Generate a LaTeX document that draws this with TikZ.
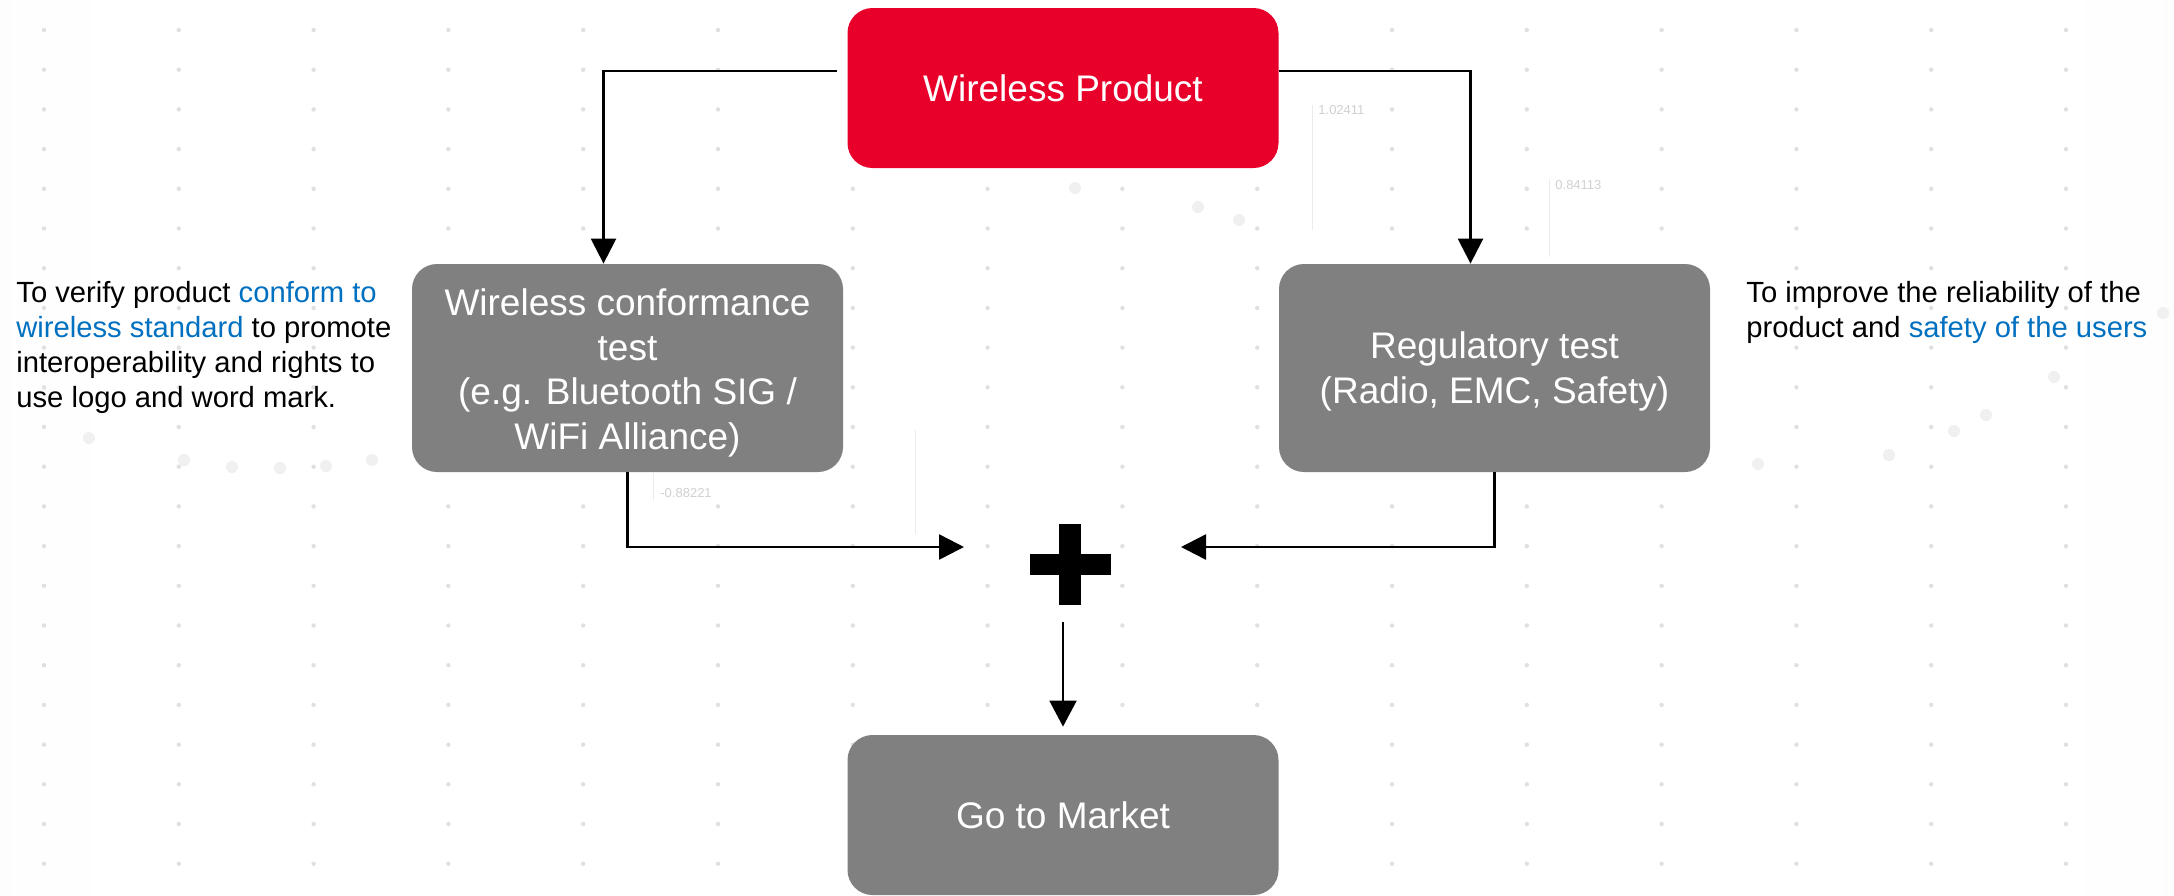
\documentclass[tikz,border=0pt]{standalone}
\usepackage{fontspec}
\setmainfont{Liberation Sans}
\usetikzlibrary{arrows.meta}
\definecolor{wred}{HTML}{E8002A}
\definecolor{wgray}{HTML}{808080}
\definecolor{wblue}{HTML}{0070C0}
\pgfdeclarehorizontalshading{bgshade}{100bp}{color(0bp)=(black!6); color(28bp)=(white); color(72bp)=(white); color(100bp)=(black!6)}
\begin{document}
\begin{tikzpicture}[x=0.5pt,y=-0.5pt,
  box/.style={rectangle, rounded corners=12.5pt, minimum width=215.5pt, inner sep=0pt, text=white, align=center, font=\fontsize{18.5}{22.2}\selectfont},
  redbox/.style={box, fill=wred, minimum height=80pt},
  graybox/.style={box, fill=wgray, minimum height=104pt},
  endbox/.style={box, fill=wgray, minimum height=80pt},
  conn/.style={line width=1.25pt, -{Triangle[width=12.5pt,length=12.5pt]}},
  downconn/.style={line width=1pt, -{Triangle[width=13.5pt,length=13pt]}},
  note/.style={font=\fontsize{14.6}{17.5}\selectfont, align=left, anchor=base west, inner sep=0pt},
  bgnum/.style={font=\fontsize{6.5}{8}\selectfont, text=black!18, inner sep=0pt, anchor=base west},
  bgline/.style={black!8, line width=0.5pt},
  blob/.style={black!6},
  dotc/.style={black!12},
]
\useasboundingbox (0,0) rectangle (2174,895);
\shade[shading=bgshade] (0,0) rectangle (2174,895);
% background dot grid
\foreach \i in {0,...,15}{\foreach \j in {0,...,21}{\fill[dotc] (44+134.8*\i,30+39.7*\j) circle (1.1pt);}}
% faint background chart marks
\draw[bgline] (1312,105) -- (1312,230);
\node[bgnum] (n1) at (1318,114) {1.02411};
\draw[bgline] (1549,179) -- (1549,257);
\node[bgnum] (n2) at (1555,189) {0.84113};
\draw[bgline] (653,473) -- (653,500);
\node[bgnum] (n3) at (660,497) {-0.88221};
\draw[bgline] (915,430) -- (915,534);
\foreach \p in {(1075,188),(1198,207),(1239,220),(2054,377),(1986,415),(1954,431),(1889,455),(2163,313),(89,438),(184,460),(232,467),(280,468),(326,466),(372,460),(1758,464)}{\fill[blob] \p circle (3pt);}
% boxes
\node[redbox] (wp) at (1063,88) {Wireless Product};
\node[graybox, text height=81pt, text depth=0pt] (wct) at (627.5,368) {Wireless conformance\\test\\(e.g. Bluetooth SIG /\\WiFi Alliance)};
\node[graybox, text height=35.3pt, text depth=0pt] (reg) at (1494.5,368) {Regulatory test\\(Radio, EMC, Safety)};
\node[endbox] (gtm) at (1063,815) {Go to Market};
% plus sign
\coordinate (plus) at (1070,564.5);
\fill ([shift={(-11,-40.5)}]plus) rectangle ([shift={(11,40.5)}]plus);
\fill ([shift={(-40.5,-10.5)}]plus) rectangle ([shift={(40.5,10.5)}]plus);
\coordinate (lt) at ([shift={(-106,-17.5)}]plus);
\coordinate (rt) at ([shift={(111,-17.5)}]plus);
% connectors
\draw[conn] ([shift={(-10,-17)}]wp.west) -| ([xshift=-12pt]wct.north);
\draw[conn] ([yshift=8.5pt]wp.east) -| ([xshift=-12pt]reg.north);
\draw[conn] (wct.south) |- (lt);
\draw[conn] (reg.south) |- (rt);
\draw[downconn] ([shift={(-7,57.5)}]plus) -- ([yshift=4pt]gtm.north);
% notes (base anchor = baseline of last line)
\node[note] (lnote) at (16,407) {To verify product \textcolor{wblue}{conform to}\\\textcolor{wblue}{wireless standard} to promote\\interoperability and rights to\\use logo and word mark.};
\node[note] (rnote) at (1746,337) {To improve the reliability of the\\product and \textcolor{wblue}{safety of the users}};
\end{tikzpicture}
\end{document}
